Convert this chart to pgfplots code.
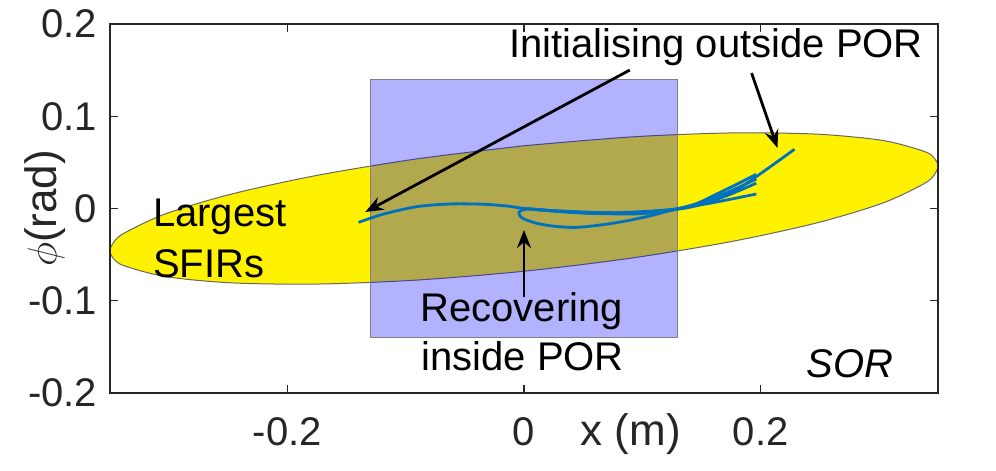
\documentclass[border=0pt]{standalone}
\usepackage{fontspec}
\setmainfont{Liberation Sans}
\usepackage{pgfplots}
\pgfplotsset{compat=1.18}
\usetikzlibrary{arrows.meta}
\definecolor{axgray}{rgb}{0.15,0.15,0.15}
\definecolor{mblue}{rgb}{0,0.447,0.741}
\newcommand{\bigf}{\fontsize{20}{24}\selectfont}
\newcommand{\labf}{\fontsize{22}{26}\selectfont}

\begin{document}
\begin{tikzpicture}
\begin{axis}[
  name=ax, at={(0,0)}, anchor=south west,
  scale only axis, width=414pt, height=184.5pt,
  xmin=-0.35, xmax=0.35, ymin=-0.2, ymax=0.2,
  xtick={-0.2,0,0.2}, ytick={-0.2,-0.1,0,0.1,0.2},
  tick align=inside, major tick length=4pt,
  axis line style={axgray, line width=0.6pt},
  tick style={axgray, line width=0.6pt},
  ticklabel style={font=\bigf, text=axgray},
  /pgf/number format/assume math mode=true,
  xticklabel shift=9pt, yticklabel shift=3pt,
  clip=false, axis on top,
]
% largest SFIR (ellipse outline points)
\addplot[fill=yellow, draw=black!60, line width=0.5pt, smooth] coordinates {
  (0,0.068) (-0.0906,0.0538) (-0.175,0.0359) (-0.2475,0.0156)
  (-0.3031,-0.0058) (-0.3381,-0.0268) (-0.3470,-0.0367) (-0.350,-0.046)
  (-0.3470,-0.0545) (-0.3381,-0.0620)
  (-0.3031,-0.0738) (-0.2475,-0.0806) (-0.175,-0.0819) (-0.0906,-0.0776)
  (0,-0.068) (0.0906,-0.0538) (0.175,-0.0359) (0.2475,-0.0156) (0.3031,0.0058)
  (0.3381,0.0268) (0.3470,0.0367) (0.350,0.046) (0.3470,0.0545) (0.3381,0.0620)
  (0.3031,0.0738) (0.2475,0.0806) (0.175,0.0819) (0.0906,0.0776) (0,0.068)
};
% POR
\addplot[fill=blue, fill opacity=0.3, draw=gray, line width=0.4pt] coordinates {
  (-0.13,-0.14) (0.13,-0.14) (0.13,0.14) (-0.13,0.14) (-0.13,-0.14)
};
% trajectories
\addplot[mblue, line width=1.4pt, smooth] coordinates {
  (-0.1398,-0.0150) (-0.1187,-0.0060) (-0.0905,0.0020) (-0.0624,0.0049)
  (-0.0343,0.0046) (-0.0146,0.0027) (-0.0006,0.0002) (0.0219,-0.0024)
  (0.0473,-0.0046) (0.0895,-0.0060) (0.1173,-0.0035) (0.1316,0.0002)
  (0.157,0.0092) (0.182,0.0222) (0.2287,0.0642)
};
\addplot[mblue, line width=1.4pt, smooth] coordinates {
  (0.1964,0.0370) (0.1654,0.0172) (0.1401,0.0027) (0.1063,-0.0043)
  (0.0641,-0.0043) (0.0219,-0.0022) (0.0034,-0.0005) (-0.0042,-0.0038)
  (-0.0017,-0.0103) (0.0107,-0.0160) (0.0262,-0.0193) (0.0458,-0.0204)
  (0.0751,-0.0160) (0.1035,-0.0089) (0.1316,0.0002) (0.157,0.0056)
  (0.1964,0.0157)
};
\addplot[mblue, line width=1.4pt, smooth] coordinates {
  (0.0,0.0) (0.0641,-0.0049) (0.1316,0.0) (0.1654,0.0140) (0.1964,0.0320)
};
\addplot[mblue, line width=1.4pt, smooth] coordinates {
  (0.01,-0.001) (0.0641,-0.0055) (0.1316,-0.0005) (0.1654,0.0110) (0.1964,0.0275)
};
% annotations
\draw[-{Stealth[length=9pt,width=7pt]}, line width=1.4pt] (axis cs:0.0895,0.1501) -- (axis cs:-0.1342,-0.0038);
\draw[-{Stealth[length=9pt,width=7pt]}, line width=1.4pt] (axis cs:0.1924,0.1469) -- (axis cs:0.2143,0.0656);
\draw[-{Stealth[length=9pt,width=7pt]}, line width=1.4pt] (axis cs:0,-0.0959) -- (axis cs:0,-0.0233);
\node[font=\bigf, anchor=base, inner sep=0pt] at (axis cs:0.1624,0.1642) {Initialising outside POR};
\node[font=\bigf, anchor=base west, inner sep=0pt] at (axis cs:-0.3139,-0.0190) {Largest};
\node[font=\bigf, anchor=base west, inner sep=0pt] at (axis cs:-0.3139,-0.0743) {SFIRs};
\node[font=\bigf, anchor=base west, inner sep=0pt] at (axis cs:-0.0878,-0.1230) {Recovering};
\node[font=\bigf, anchor=base west, inner sep=0pt] at (axis cs:-0.0869,-0.1751) {inside POR};
\node[font=\bigf\itshape, anchor=base west, inner sep=0pt] at (axis cs:0.2388,-0.1837) {SOR};
\node[font=\labf, text=axgray, anchor=base, inner sep=0pt] at ([yshift=-26pt]axis cs:0.0903,-0.2) {x (m)};
\node[font=\labf, text=axgray, rotate=90, anchor=center, inner sep=0pt] at ([xshift=-32.5pt]rel axis cs:0,0.5) {$\phi$(rad)};
\end{axis}
\pgfresetboundingbox
\path[use as bounding box] (-55pt,-39pt) rectangle (443pt,196.5pt);
\end{tikzpicture}
\end{document}
